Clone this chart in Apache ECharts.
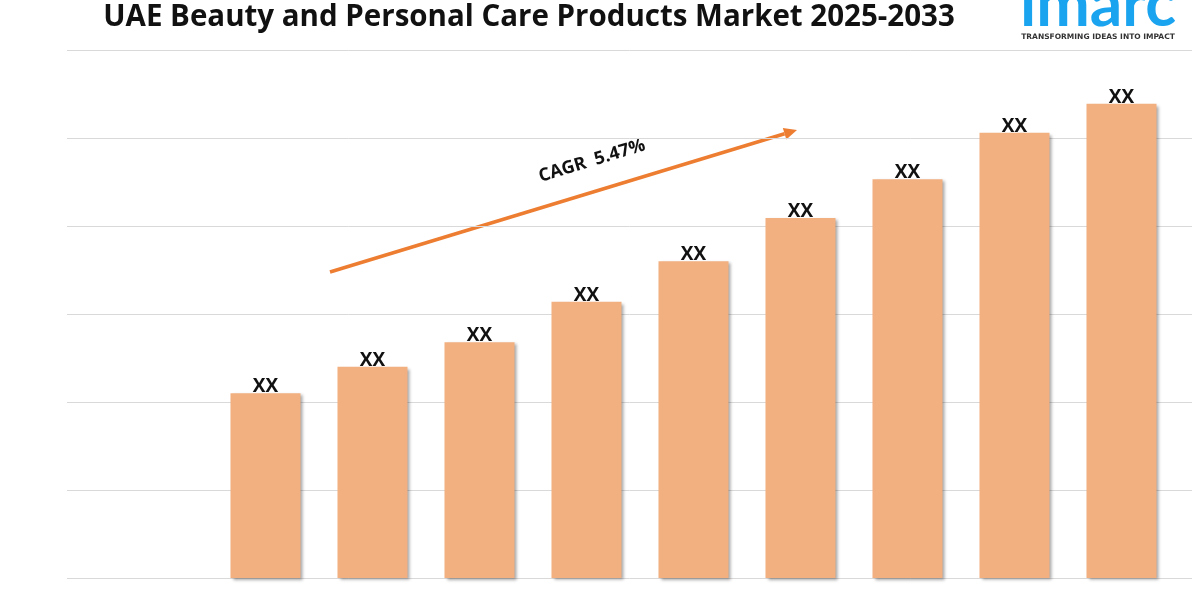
<!DOCTYPE html>
<html>
<head>
<meta charset="utf-8">
<script src="https://cdn.jsdelivr.net/npm/echarts@6/dist/echarts.min.js"></script>
<style>
  html, body { margin: 0; padding: 0; background: #fff; }
  #chart { width: 1200px; height: 600px; }
</style>
</head>
<body>
<div id="chart"></div>
<script>
// 年份
const years = ['2025', '2026', '2027', '2028', '2029', '2030', '2031', '2032', '2033']
// 柱高（估计值）
const marketValues = [2.10, 2.40, 2.68, 3.14, 3.60, 4.09, 4.53, 5.06, 5.39]
// 柱顶标签
const barLabels = ['XX', 'XX', 'XX', 'XX', 'XX', 'XX', 'XX', 'XX', 'XX']
const cagrText = 'CAGR  5.47%'

const chart = echarts.init(document.getElementById('chart'))

// 箭头
const arrowStart = [330, 272]
const arrowEnd = [797, 130]
const ang = Math.atan2(arrowEnd[1] - arrowStart[1], arrowEnd[0] - arrowStart[0])
const headLen = 13
const headW = 6
const tip = arrowEnd
const base = [tip[0] - headLen * Math.cos(ang), tip[1] - headLen * Math.sin(ang)]
const head = [
  tip,
  [base[0] + headW * Math.sin(ang), base[1] - headW * Math.cos(ang)],
  [base[0] - headW * Math.sin(ang), base[1] + headW * Math.cos(ang)]
]

const option = {
  backgroundColor: '#ffffff',
  animation: false,
  title: {
    text: 'UAE Beauty and Personal Care Products Market 2025-2033',
    left: 524,
    textAlign: 'center',
    top: -2,
    textStyle: {
      fontFamily: 'Open Sans',
      fontWeight: 'bold',
      fontSize: 29.5,
      color: '#111111'
    }
  },
  grid: [
    { left: 67, right: 8, top: 50, bottom: 22 },
    { left: 212, right: 25, top: 50, bottom: 22 }
  ],
  xAxis: [
    {
      type: 'category',
      gridIndex: 0,
      data: [''],
      show: false
    },
    {
      type: 'category',
      gridIndex: 1,
      data: years,
      axisLine: { show: false },
      axisTick: { show: false },
      axisLabel: { show: false }
    }
  ],
  yAxis: [
    {
      type: 'value',
      gridIndex: 0,
      min: 0,
      max: 6,
      interval: 1,
      axisLine: { show: false },
      axisTick: { show: false },
      axisLabel: { show: false },
      splitLine: { lineStyle: { color: '#d9d9d9', width: 1 } }
    },
    {
      type: 'value',
      gridIndex: 1,
      min: 0,
      max: 6,
      interval: 1,
      show: false,
      splitLine: { show: false }
    }
  ],
  series: [
    {
      name: 'Market',
      type: 'bar',
      xAxisIndex: 1,
      yAxisIndex: 1,
      data: marketValues,
      barWidth: 70,
      itemStyle: {
        color: '#f2af7f',
        shadowColor: 'rgba(0,0,0,0.35)',
        shadowBlur: 3,
        shadowOffsetX: 2,
        shadowOffsetY: 2
      },
      label: {
        show: true,
        position: 'top',
        distance: -3,
        formatter: (p) => barLabels[p.dataIndex],
        fontFamily: 'Open Sans',
        fontWeight: 'bold',
        fontSize: 19,
        color: '#111111'
      }
    }
  ],
  graphic: [
    {
      type: 'line',
      shape: { x1: arrowStart[0], y1: arrowStart[1], x2: base[0], y2: base[1] },
      style: { stroke: '#ed7d31', lineWidth: 3.5 }
    },
    {
      type: 'polygon',
      shape: { points: head },
      style: { fill: '#ed7d31' }
    },
    {
      type: 'text',
      x: 592,
      y: 161,
      rotation: -ang,
      style: {
        text: cagrText,
        align: 'center',
        verticalAlign: 'middle',
        fontFamily: 'Open Sans',
        fontWeight: 'bold',
        fontSize: 18,
        fill: '#111111'
      }
    },
    {
      type: 'text',
      x: 1098,
      y: 5,
      style: {
        text: 'imarc',
        align: 'center',
        verticalAlign: 'middle',
        fontFamily: 'Lato',
        fontWeight: 'bold',
        fontSize: 64,
        fill: '#1aa3ee'
      }
    },
    {
      type: 'text',
      x: 1098,
      y: 37,
      style: {
        text: 'TRANSFORMING IDEAS INTO IMPACT',
        align: 'center',
        verticalAlign: 'middle',
        fontFamily: 'DejaVu Sans',
        fontWeight: 'bold',
        fontSize: 7.5,
        fill: '#333333'
      }
    }
  ]
}

chart.setOption(option)
</script>
</body>
</html>
